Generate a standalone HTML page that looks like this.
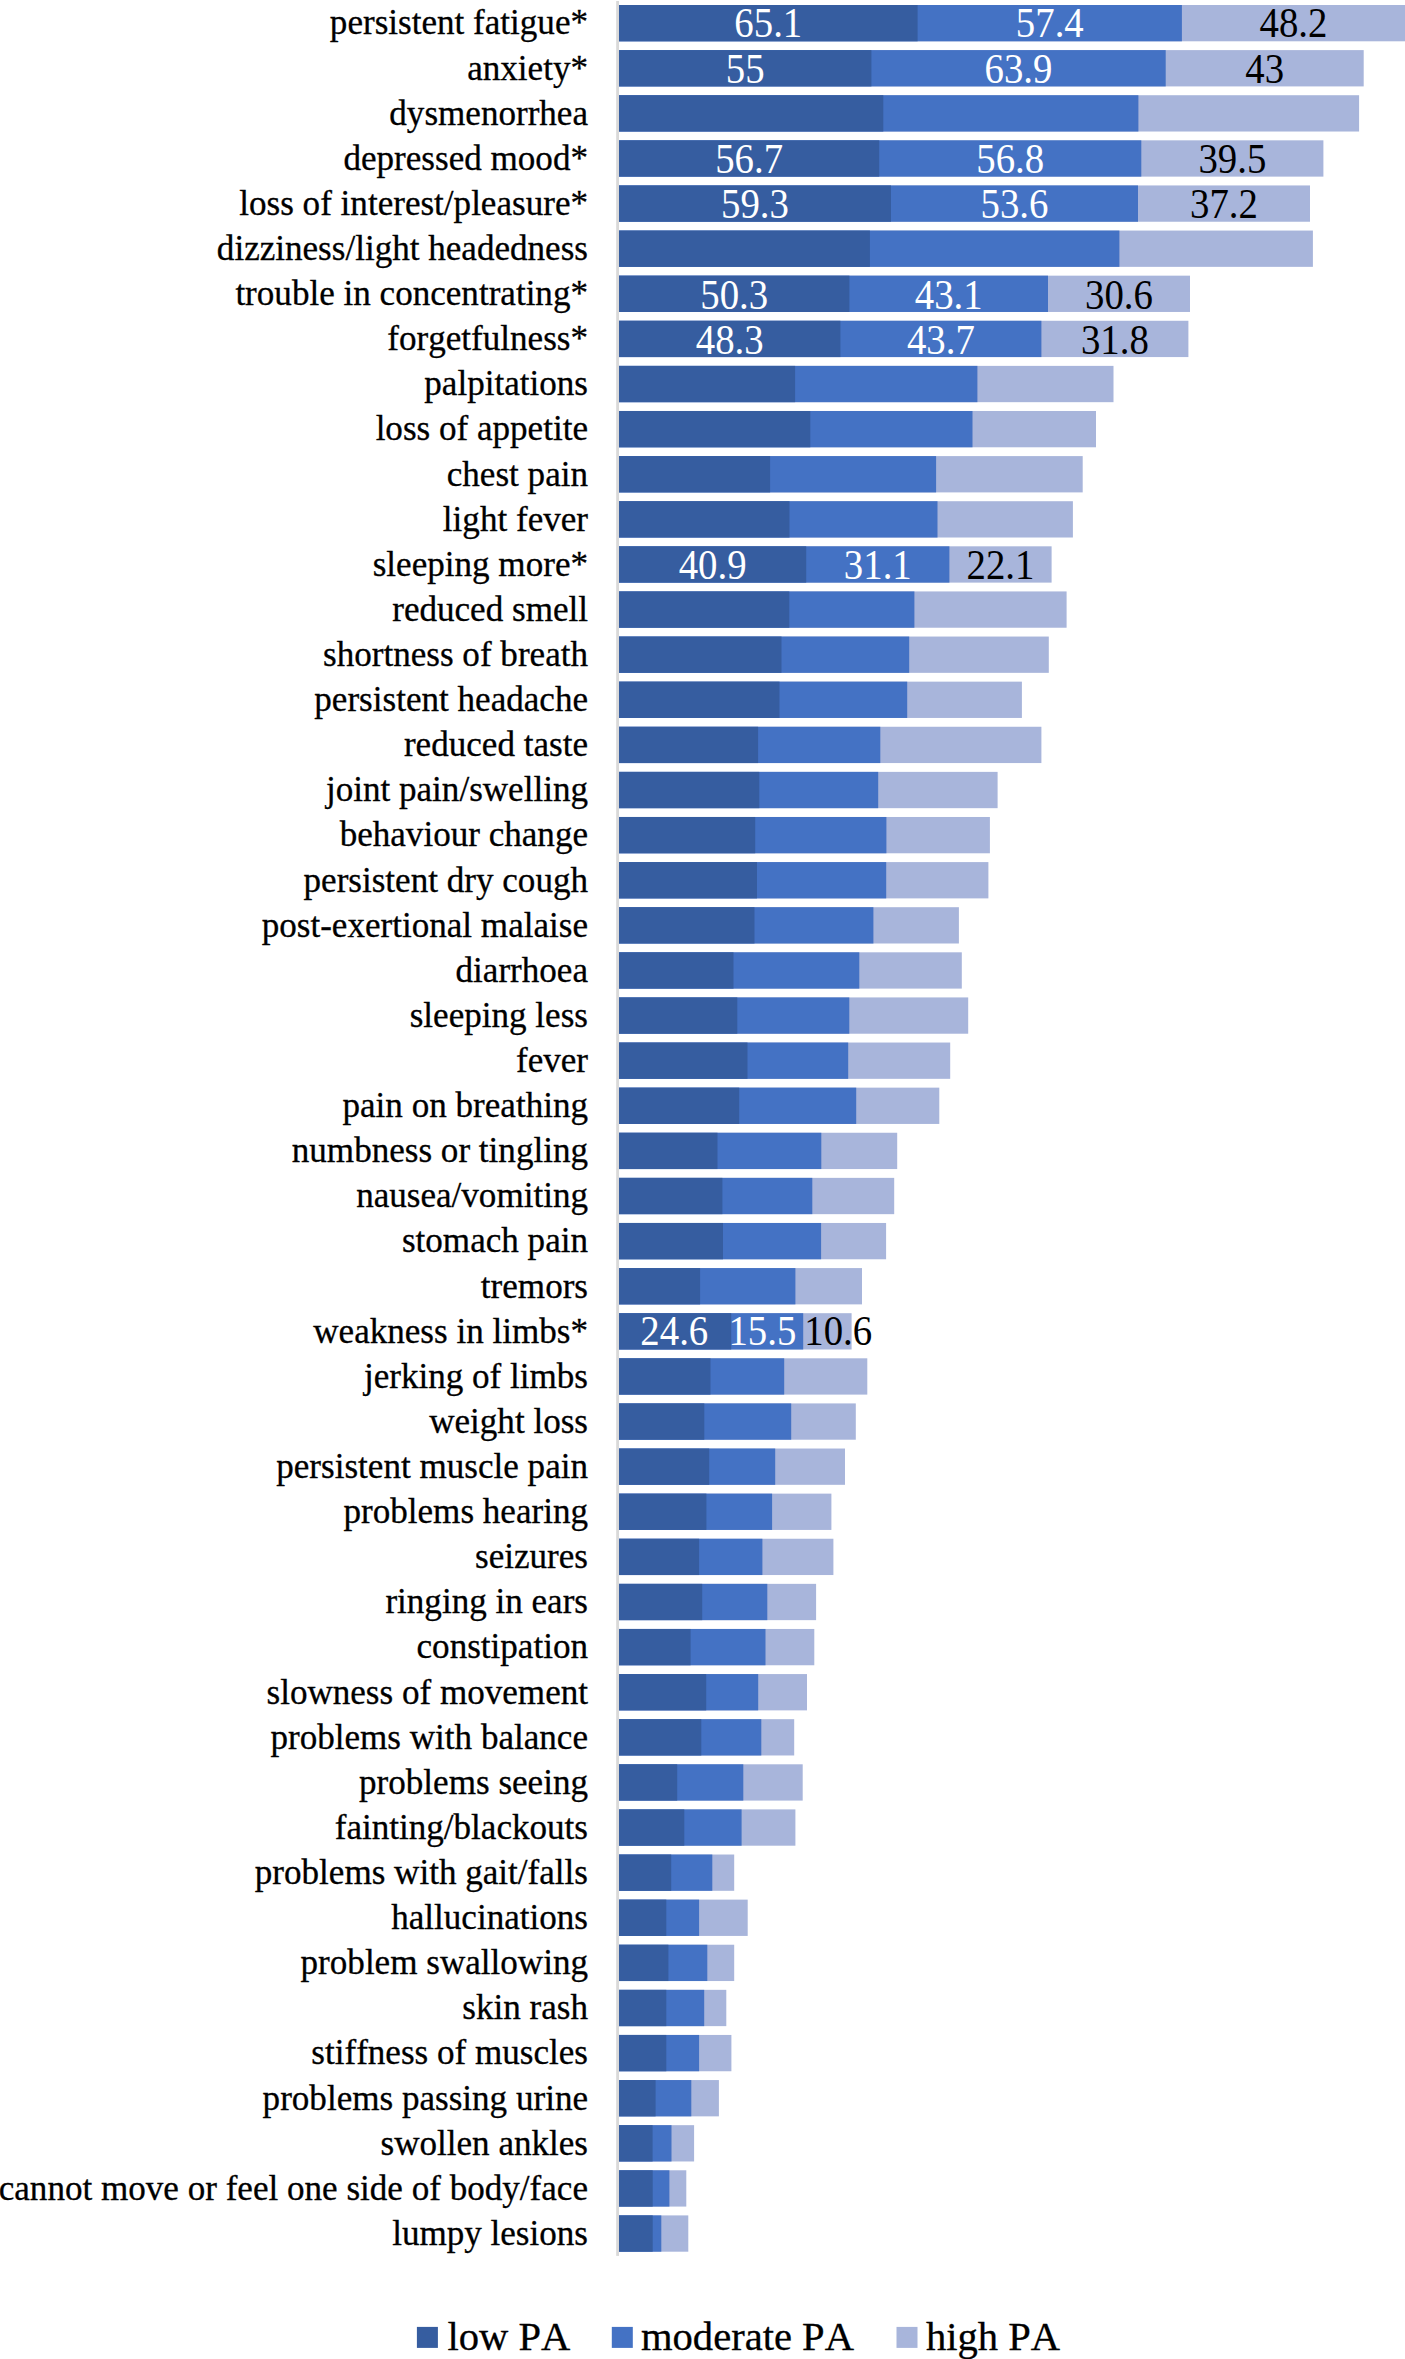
<!DOCTYPE html>
<html lang="en"><head><meta charset="utf-8"><title>Symptoms by physical activity level</title>
<style>html,body{margin:0;padding:0;background:#fff}body{width:1405px;height:2359px;overflow:hidden}svg{display:block}text{font-family:"Liberation Serif",serif;font-kerning:none;font-variant-ligatures:none}.l{font-size:35.1px;text-anchor:end;fill:#000;stroke:#000;stroke-width:.3px}.w{font-size:40px;text-anchor:middle;fill:#fff}.k{font-size:40px;text-anchor:middle;fill:#000}.g{font-size:40.6px;fill:#000;stroke:#000;stroke-width:.3px}</style></head><body>
<svg width="1405" height="2359" viewBox="0 0 1405 2359">
<rect width="1405" height="2359" fill="#fff"/>
<rect x="616.2" y="1" width="2.8" height="2254.9" fill="#d9d9d9"/>
<g><rect x="619.0" y="5.00" width="786.0" height="36.3" fill="#a8b5db"/><rect x="619.0" y="5.00" width="562.9" height="36.3" fill="#4472c4"/><rect x="619.0" y="5.00" width="298.6" height="36.3" fill="#365da0"/>
<text class="l" x="588.0" y="34.45">persistent fatigue*</text>
<text class="w" transform="translate(768.3 37.45) scale(0.97 1.04)">65.1</text>
<text class="w" transform="translate(1049.8 37.45) scale(0.97 1.04)">57.4</text>
<text class="k" transform="translate(1293.5 37.45) scale(0.97 1.04)">48.2</text>
</g>
<g><rect x="619.0" y="50.11" width="744.7" height="36.3" fill="#a8b5db"/><rect x="619.0" y="50.11" width="546.7" height="36.3" fill="#4472c4"/><rect x="619.0" y="50.11" width="252.4" height="36.3" fill="#365da0"/>
<text class="l" x="588.0" y="79.56">anxiety*</text>
<text class="w" transform="translate(745.2 83.16) scale(0.97 1.04)">55</text>
<text class="w" transform="translate(1018.5 83.16) scale(0.97 1.04)">63.9</text>
<text class="k" transform="translate(1264.7 83.16) scale(0.97 1.04)">43</text>
</g>
<g><rect x="619.0" y="95.22" width="740.1" height="36.3" fill="#a8b5db"/><rect x="619.0" y="95.22" width="519.4" height="36.3" fill="#4472c4"/><rect x="619.0" y="95.22" width="264.3" height="36.3" fill="#365da0"/>
<text class="l" x="588.0" y="124.67">dysmenorrhea</text>
</g>
<g><rect x="619.0" y="140.33" width="704.4" height="36.3" fill="#a8b5db"/><rect x="619.0" y="140.33" width="522.3" height="36.3" fill="#4472c4"/><rect x="619.0" y="140.33" width="260.2" height="36.3" fill="#365da0"/>
<text class="l" x="588.0" y="169.78">depressed mood*</text>
<text class="w" transform="translate(749.1 173.38) scale(0.97 1.04)">56.7</text>
<text class="w" transform="translate(1010.2 173.38) scale(0.97 1.04)">56.8</text>
<text class="k" transform="translate(1232.4 173.38) scale(0.97 1.04)">39.5</text>
</g>
<g><rect x="619.0" y="185.44" width="691.0" height="36.3" fill="#a8b5db"/><rect x="619.0" y="185.44" width="519.0" height="36.3" fill="#4472c4"/><rect x="619.0" y="185.44" width="272.0" height="36.3" fill="#365da0"/>
<text class="l" x="588.0" y="214.89">loss of interest/pleasure*</text>
<text class="w" transform="translate(755.0 218.49) scale(0.97 1.04)">59.3</text>
<text class="w" transform="translate(1014.5 218.49) scale(0.97 1.04)">53.6</text>
<text class="k" transform="translate(1224.0 218.49) scale(0.97 1.04)">37.2</text>
</g>
<g><rect x="619.0" y="230.55" width="693.9" height="36.3" fill="#a8b5db"/><rect x="619.0" y="230.55" width="500.4" height="36.3" fill="#4472c4"/><rect x="619.0" y="230.55" width="250.9" height="36.3" fill="#365da0"/>
<text class="l" x="588.0" y="260.00">dizziness/light headedness</text>
</g>
<g><rect x="619.0" y="275.66" width="571.0" height="36.3" fill="#a8b5db"/><rect x="619.0" y="275.66" width="429.0" height="36.3" fill="#4472c4"/><rect x="619.0" y="275.66" width="230.4" height="36.3" fill="#365da0"/>
<text class="l" x="588.0" y="305.11">trouble in concentrating*</text>
<text class="w" transform="translate(734.2 308.71) scale(0.97 1.04)">50.3</text>
<text class="w" transform="translate(948.7 308.71) scale(0.97 1.04)">43.1</text>
<text class="k" transform="translate(1119.0 308.71) scale(0.97 1.04)">30.6</text>
</g>
<g><rect x="619.0" y="320.77" width="569.4" height="36.3" fill="#a8b5db"/><rect x="619.0" y="320.77" width="422.4" height="36.3" fill="#4472c4"/><rect x="619.0" y="320.77" width="221.4" height="36.3" fill="#365da0"/>
<text class="l" x="588.0" y="350.22">forgetfulness*</text>
<text class="w" transform="translate(729.7 353.82) scale(0.97 1.04)">48.3</text>
<text class="w" transform="translate(940.9 353.82) scale(0.97 1.04)">43.7</text>
<text class="k" transform="translate(1114.9 353.82) scale(0.97 1.04)">31.8</text>
</g>
<g><rect x="619.0" y="365.88" width="494.5" height="36.3" fill="#a8b5db"/><rect x="619.0" y="365.88" width="358.4" height="36.3" fill="#4472c4"/><rect x="619.0" y="365.88" width="176.1" height="36.3" fill="#365da0"/>
<text class="l" x="588.0" y="395.33">palpitations</text>
</g>
<g><rect x="619.0" y="410.99" width="477.0" height="36.3" fill="#a8b5db"/><rect x="619.0" y="410.99" width="353.5" height="36.3" fill="#4472c4"/><rect x="619.0" y="410.99" width="191.3" height="36.3" fill="#365da0"/>
<text class="l" x="588.0" y="440.44">loss of appetite</text>
</g>
<g><rect x="619.0" y="456.10" width="463.7" height="36.3" fill="#a8b5db"/><rect x="619.0" y="456.10" width="317.1" height="36.3" fill="#4472c4"/><rect x="619.0" y="456.10" width="151.1" height="36.3" fill="#365da0"/>
<text class="l" x="588.0" y="485.55">chest pain</text>
</g>
<g><rect x="619.0" y="501.21" width="453.9" height="36.3" fill="#a8b5db"/><rect x="619.0" y="501.21" width="318.5" height="36.3" fill="#4472c4"/><rect x="619.0" y="501.21" width="170.5" height="36.3" fill="#365da0"/>
<text class="l" x="588.0" y="530.66">light fever</text>
</g>
<g><rect x="619.0" y="546.32" width="432.6" height="36.3" fill="#a8b5db"/><rect x="619.0" y="546.32" width="330.4" height="36.3" fill="#4472c4"/><rect x="619.0" y="546.32" width="187.2" height="36.3" fill="#365da0"/>
<text class="l" x="588.0" y="575.77">sleeping more*</text>
<text class="w" transform="translate(712.6 579.37) scale(0.97 1.04)">40.9</text>
<text class="w" transform="translate(877.8 579.37) scale(0.97 1.04)">31.1</text>
<text class="k" transform="translate(1000.5 579.37) scale(0.97 1.04)">22.1</text>
</g>
<g><rect x="619.0" y="591.43" width="447.6" height="36.3" fill="#a8b5db"/><rect x="619.0" y="591.43" width="295.4" height="36.3" fill="#4472c4"/><rect x="619.0" y="591.43" width="170.3" height="36.3" fill="#365da0"/>
<text class="l" x="588.0" y="620.88">reduced smell</text>
</g>
<g><rect x="619.0" y="636.54" width="429.8" height="36.3" fill="#a8b5db"/><rect x="619.0" y="636.54" width="290.2" height="36.3" fill="#4472c4"/><rect x="619.0" y="636.54" width="162.5" height="36.3" fill="#365da0"/>
<text class="l" x="588.0" y="665.99">shortness of breath</text>
</g>
<g><rect x="619.0" y="681.65" width="402.9" height="36.3" fill="#a8b5db"/><rect x="619.0" y="681.65" width="288.2" height="36.3" fill="#4472c4"/><rect x="619.0" y="681.65" width="160.5" height="36.3" fill="#365da0"/>
<text class="l" x="588.0" y="711.10">persistent headache</text>
</g>
<g><rect x="619.0" y="726.76" width="422.4" height="36.3" fill="#a8b5db"/><rect x="619.0" y="726.76" width="261.3" height="36.3" fill="#4472c4"/><rect x="619.0" y="726.76" width="139.1" height="36.3" fill="#365da0"/>
<text class="l" x="588.0" y="756.21">reduced taste</text>
</g>
<g><rect x="619.0" y="771.87" width="378.6" height="36.3" fill="#a8b5db"/><rect x="619.0" y="771.87" width="259.2" height="36.3" fill="#4472c4"/><rect x="619.0" y="771.87" width="140.3" height="36.3" fill="#365da0"/>
<text class="l" x="588.0" y="801.32">joint pain/swelling</text>
</g>
<g><rect x="619.0" y="816.98" width="370.9" height="36.3" fill="#a8b5db"/><rect x="619.0" y="816.98" width="267.4" height="36.3" fill="#4472c4"/><rect x="619.0" y="816.98" width="136.2" height="36.3" fill="#365da0"/>
<text class="l" x="588.0" y="846.43">behaviour change</text>
</g>
<g><rect x="619.0" y="862.09" width="369.4" height="36.3" fill="#a8b5db"/><rect x="619.0" y="862.09" width="267.2" height="36.3" fill="#4472c4"/><rect x="619.0" y="862.09" width="138.0" height="36.3" fill="#365da0"/>
<text class="l" x="588.0" y="891.54">persistent dry cough</text>
</g>
<g><rect x="619.0" y="907.20" width="339.9" height="36.3" fill="#a8b5db"/><rect x="619.0" y="907.20" width="254.4" height="36.3" fill="#4472c4"/><rect x="619.0" y="907.20" width="135.5" height="36.3" fill="#365da0"/>
<text class="l" x="588.0" y="936.65">post-exertional malaise</text>
</g>
<g><rect x="619.0" y="952.31" width="342.8" height="36.3" fill="#a8b5db"/><rect x="619.0" y="952.31" width="240.3" height="36.3" fill="#4472c4"/><rect x="619.0" y="952.31" width="114.5" height="36.3" fill="#365da0"/>
<text class="l" x="588.0" y="981.76">diarrhoea</text>
</g>
<g><rect x="619.0" y="997.42" width="349.2" height="36.3" fill="#a8b5db"/><rect x="619.0" y="997.42" width="230.3" height="36.3" fill="#4472c4"/><rect x="619.0" y="997.42" width="118.3" height="36.3" fill="#365da0"/>
<text class="l" x="588.0" y="1026.87">sleeping less</text>
</g>
<g><rect x="619.0" y="1042.53" width="331.2" height="36.3" fill="#a8b5db"/><rect x="619.0" y="1042.53" width="229.2" height="36.3" fill="#4472c4"/><rect x="619.0" y="1042.53" width="128.5" height="36.3" fill="#365da0"/>
<text class="l" x="588.0" y="1071.98">fever</text>
</g>
<g><rect x="619.0" y="1087.64" width="320.3" height="36.3" fill="#a8b5db"/><rect x="619.0" y="1087.64" width="237.2" height="36.3" fill="#4472c4"/><rect x="619.0" y="1087.64" width="120.2" height="36.3" fill="#365da0"/>
<text class="l" x="588.0" y="1117.09">pain on breathing</text>
</g>
<g><rect x="619.0" y="1132.75" width="278.2" height="36.3" fill="#a8b5db"/><rect x="619.0" y="1132.75" width="202.3" height="36.3" fill="#4472c4"/><rect x="619.0" y="1132.75" width="98.5" height="36.3" fill="#365da0"/>
<text class="l" x="588.0" y="1162.20">numbness or tingling</text>
</g>
<g><rect x="619.0" y="1177.86" width="275.2" height="36.3" fill="#a8b5db"/><rect x="619.0" y="1177.86" width="193.3" height="36.3" fill="#4472c4"/><rect x="619.0" y="1177.86" width="103.4" height="36.3" fill="#365da0"/>
<text class="l" x="588.0" y="1207.31">nausea/vomiting</text>
</g>
<g><rect x="619.0" y="1222.97" width="267.1" height="36.3" fill="#a8b5db"/><rect x="619.0" y="1222.97" width="202.1" height="36.3" fill="#4472c4"/><rect x="619.0" y="1222.97" width="104.0" height="36.3" fill="#365da0"/>
<text class="l" x="588.0" y="1252.42">stomach pain</text>
</g>
<g><rect x="619.0" y="1268.08" width="243.0" height="36.3" fill="#a8b5db"/><rect x="619.0" y="1268.08" width="176.4" height="36.3" fill="#4472c4"/><rect x="619.0" y="1268.08" width="81.1" height="36.3" fill="#365da0"/>
<text class="l" x="588.0" y="1297.53">tremors</text>
</g>
<g><rect x="619.0" y="1313.19" width="232.6" height="36.3" fill="#a8b5db"/><rect x="619.0" y="1313.19" width="184.2" height="36.3" fill="#4472c4"/><rect x="619.0" y="1313.19" width="112.2" height="36.3" fill="#365da0"/>
<text class="l" x="588.0" y="1342.64">weakness in limbs*</text>
<text class="w" transform="translate(674.3 1345.04) scale(0.97 1.04)">24.6</text>
<text class="w" transform="translate(762.4 1345.04) scale(0.97 1.04)">15.5</text>
<text class="k" transform="translate(838.2 1345.04) scale(0.97 1.04)">10.6</text>
</g>
<g><rect x="619.0" y="1358.30" width="248.3" height="36.3" fill="#a8b5db"/><rect x="619.0" y="1358.30" width="165.2" height="36.3" fill="#4472c4"/><rect x="619.0" y="1358.30" width="91.5" height="36.3" fill="#365da0"/>
<text class="l" x="588.0" y="1387.75">jerking of limbs</text>
</g>
<g><rect x="619.0" y="1403.41" width="236.8" height="36.3" fill="#a8b5db"/><rect x="619.0" y="1403.41" width="172.2" height="36.3" fill="#4472c4"/><rect x="619.0" y="1403.41" width="85.3" height="36.3" fill="#365da0"/>
<text class="l" x="588.0" y="1432.86">weight loss</text>
</g>
<g><rect x="619.0" y="1448.52" width="226.0" height="36.3" fill="#a8b5db"/><rect x="619.0" y="1448.52" width="156.2" height="36.3" fill="#4472c4"/><rect x="619.0" y="1448.52" width="90.2" height="36.3" fill="#365da0"/>
<text class="l" x="588.0" y="1477.97">persistent muscle pain</text>
</g>
<g><rect x="619.0" y="1493.63" width="212.4" height="36.3" fill="#a8b5db"/><rect x="619.0" y="1493.63" width="153.1" height="36.3" fill="#4472c4"/><rect x="619.0" y="1493.63" width="87.4" height="36.3" fill="#365da0"/>
<text class="l" x="588.0" y="1523.08">problems hearing</text>
</g>
<g><rect x="619.0" y="1538.74" width="214.4" height="36.3" fill="#a8b5db"/><rect x="619.0" y="1538.74" width="143.4" height="36.3" fill="#4472c4"/><rect x="619.0" y="1538.74" width="80.1" height="36.3" fill="#365da0"/>
<text class="l" x="588.0" y="1568.19">seizures</text>
</g>
<g><rect x="619.0" y="1583.85" width="197.1" height="36.3" fill="#a8b5db"/><rect x="619.0" y="1583.85" width="148.3" height="36.3" fill="#4472c4"/><rect x="619.0" y="1583.85" width="83.2" height="36.3" fill="#365da0"/>
<text class="l" x="588.0" y="1613.30">ringing in ears</text>
</g>
<g><rect x="619.0" y="1628.96" width="195.3" height="36.3" fill="#a8b5db"/><rect x="619.0" y="1628.96" width="146.5" height="36.3" fill="#4472c4"/><rect x="619.0" y="1628.96" width="71.6" height="36.3" fill="#365da0"/>
<text class="l" x="588.0" y="1658.41">constipation</text>
</g>
<g><rect x="619.0" y="1674.07" width="188.0" height="36.3" fill="#a8b5db"/><rect x="619.0" y="1674.07" width="139.2" height="36.3" fill="#4472c4"/><rect x="619.0" y="1674.07" width="87.2" height="36.3" fill="#365da0"/>
<text class="l" x="588.0" y="1703.52">slowness of movement</text>
</g>
<g><rect x="619.0" y="1719.18" width="175.2" height="36.3" fill="#a8b5db"/><rect x="619.0" y="1719.18" width="142.3" height="36.3" fill="#4472c4"/><rect x="619.0" y="1719.18" width="82.3" height="36.3" fill="#365da0"/>
<text class="l" x="588.0" y="1748.63">problems with balance</text>
</g>
<g><rect x="619.0" y="1764.29" width="183.7" height="36.3" fill="#a8b5db"/><rect x="619.0" y="1764.29" width="124.3" height="36.3" fill="#4472c4"/><rect x="619.0" y="1764.29" width="58.2" height="36.3" fill="#365da0"/>
<text class="l" x="588.0" y="1793.74">problems seeing</text>
</g>
<g><rect x="619.0" y="1809.40" width="176.4" height="36.3" fill="#a8b5db"/><rect x="619.0" y="1809.40" width="122.6" height="36.3" fill="#4472c4"/><rect x="619.0" y="1809.40" width="65.3" height="36.3" fill="#365da0"/>
<text class="l" x="588.0" y="1838.85">fainting/blackouts</text>
</g>
<g><rect x="619.0" y="1854.51" width="115.2" height="36.3" fill="#a8b5db"/><rect x="619.0" y="1854.51" width="93.3" height="36.3" fill="#4472c4"/><rect x="619.0" y="1854.51" width="52.2" height="36.3" fill="#365da0"/>
<text class="l" x="588.0" y="1883.96">problems with gait/falls</text>
</g>
<g><rect x="619.0" y="1899.62" width="128.7" height="36.3" fill="#a8b5db"/><rect x="619.0" y="1899.62" width="80.1" height="36.3" fill="#4472c4"/><rect x="619.0" y="1899.62" width="47.3" height="36.3" fill="#365da0"/>
<text class="l" x="588.0" y="1929.07">hallucinations</text>
</g>
<g><rect x="619.0" y="1944.73" width="115.2" height="36.3" fill="#a8b5db"/><rect x="619.0" y="1944.73" width="88.3" height="36.3" fill="#4472c4"/><rect x="619.0" y="1944.73" width="49.4" height="36.3" fill="#365da0"/>
<text class="l" x="588.0" y="1974.18">problem swallowing</text>
</g>
<g><rect x="619.0" y="1989.84" width="107.3" height="36.3" fill="#a8b5db"/><rect x="619.0" y="1989.84" width="85.2" height="36.3" fill="#4472c4"/><rect x="619.0" y="1989.84" width="47.3" height="36.3" fill="#365da0"/>
<text class="l" x="588.0" y="2019.29">skin rash</text>
</g>
<g><rect x="619.0" y="2034.95" width="112.4" height="36.3" fill="#a8b5db"/><rect x="619.0" y="2034.95" width="80.1" height="36.3" fill="#4472c4"/><rect x="619.0" y="2034.95" width="47.3" height="36.3" fill="#365da0"/>
<text class="l" x="588.0" y="2064.40">stiffness of muscles</text>
</g>
<g><rect x="619.0" y="2080.06" width="99.9" height="36.3" fill="#a8b5db"/><rect x="619.0" y="2080.06" width="72.3" height="36.3" fill="#4472c4"/><rect x="619.0" y="2080.06" width="36.6" height="36.3" fill="#365da0"/>
<text class="l" x="588.0" y="2109.51">problems passing urine</text>
</g>
<g><rect x="619.0" y="2125.17" width="75.1" height="36.3" fill="#a8b5db"/><rect x="619.0" y="2125.17" width="52.5" height="36.3" fill="#4472c4"/><rect x="619.0" y="2125.17" width="33.6" height="36.3" fill="#365da0"/>
<text class="l" x="588.0" y="2154.62">swollen ankles</text>
</g>
<g><rect x="619.0" y="2170.28" width="67.3" height="36.3" fill="#a8b5db"/><rect x="619.0" y="2170.28" width="50.4" height="36.3" fill="#4472c4"/><rect x="619.0" y="2170.28" width="33.7" height="36.3" fill="#365da0"/>
<text class="l" x="588.0" y="2199.73">cannot move or feel one side of body/face</text>
</g>
<g><rect x="619.0" y="2215.39" width="69.3" height="36.3" fill="#a8b5db"/><rect x="619.0" y="2215.39" width="42.3" height="36.3" fill="#4472c4"/><rect x="619.0" y="2215.39" width="33.7" height="36.3" fill="#365da0"/>
<text class="l" x="588.0" y="2244.84">lumpy lesions</text>
</g>
<rect x="416.9" y="2326.9" width="21" height="21" fill="#365da0"/>
<text class="g" x="447.5" y="2349.8">low PA</text>
<rect x="611.8" y="2326.9" width="21" height="21" fill="#4472c4"/>
<text class="g" x="641.0" y="2349.8">moderate PA</text>
<rect x="896.5" y="2326.9" width="21" height="21" fill="#a8b5db"/>
<text class="g" x="926" y="2349.8">high PA</text>
</svg></body></html>
